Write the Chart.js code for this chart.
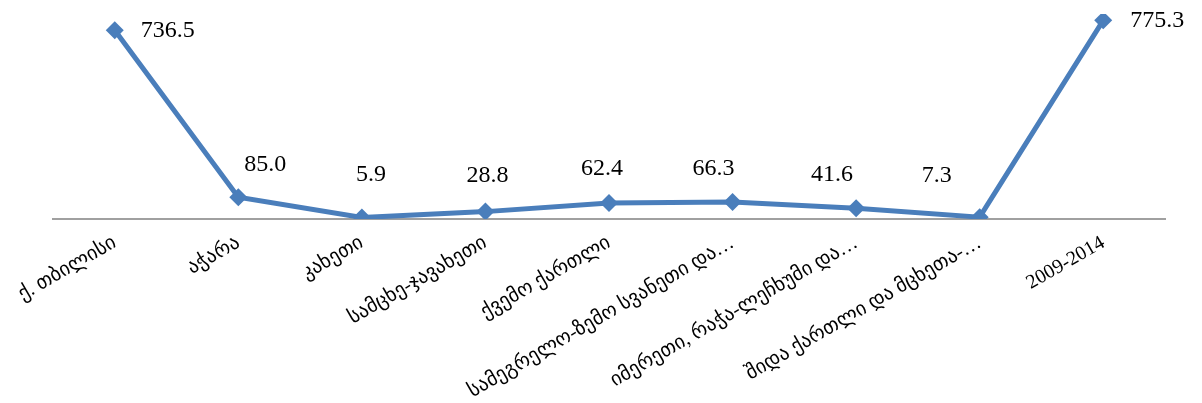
<!DOCTYPE html>
<html>
<head>
<meta charset="utf-8">
<script src="https://cdn.jsdelivr.net/npm/chart.js@4.4.1/dist/chart.umd.min.js"></script>
<style>
    html, body { margin: 0; padding: 0; background: #fff; }
    #wrap { width: 1202px; height: 403px; }
</style>
</head>
<body>
<div id="wrap"><canvas id="regionChart"></canvas></div>
<script>
const regionLabels = [
    'ქ. თბილისი',
    'აჭარა',
    'კახეთი',
    'სამცხე-ჯავახეთი',
    'ქვემო ქართლი',
    'სამეგრელო-ზემო სვანეთი და…',
    'იმერეთი, რაჭა-ლეჩხუმი და…',
    'შიდა ქართლი და მცხეთა-…',
    '2009-2014'
];
const regionValues = [736.5, 85.0, 5.9, 28.8, 62.4, 66.3, 41.6, 7.3, 775.3];
const yMin = 0;
const yMax = 800;

// label placement (dx, dy from the point), like the hand-moved labels in the original
const labelOffsets = [
    [53, 0], [27, -33], [9, -43], [2, -36], [-7, -34],
    [-19, -33], [-24, -34], [-43, -41], [54, 0]
];

const valueLabels = {
    id: 'valueLabels',
    afterDatasetsDraw(chart) {
        const ctx = chart.ctx;
        const meta = chart.getDatasetMeta(0);
        ctx.save();
        ctx.font = '24px "Liberation Serif", "Times New Roman", serif';
        ctx.fillStyle = '#000';
        ctx.textAlign = 'center';
        ctx.textBaseline = 'middle';
        meta.data.forEach((pt, i) => {
            const off = labelOffsets[i] || [0, -30];
            ctx.fillText(regionValues[i].toFixed(1), pt.x + off[0], pt.y + off[1]);
        });
        ctx.restore();
    }
};

new Chart(document.getElementById('regionChart'), {
    type: 'line',
    data: {
        labels: regionLabels,
        datasets: [{
            data: regionValues,
            borderColor: '#4a7ebb',
            backgroundColor: '#4a7ebb',
            borderWidth: 5,
            tension: 0,
            pointStyle: 'rectRot',
            pointRadius: 9,
            pointBorderWidth: 0,
            pointBackgroundColor: '#4a7ebb'
        }]
    },
    options: {
        responsive: true,
        maintainAspectRatio: false,
        animation: false,
        layout: {
            padding: { left: 53, right: 37, top: 14, bottom: 0 }
        },
        plugins: {
            legend: { display: false },
            tooltip: { enabled: false }
        },
        scales: {
            x: {
                offset: true,
                grid: { display: false, drawTicks: false },
                border: { display: true, color: '#a0a0a0', width: 2 },
                ticks: {
                    color: '#000',
                    minRotation: 30,
                    maxRotation: 30,
                    autoSkip: false,
                    padding: 12,
                    font: { family: '"Liberation Serif", "DejaVu Sans", serif', size: 20 }
                },
                afterFit: (axis) => { axis.height = 184; }
            },
            y: {
                display: false,
                min: yMin,
                max: yMax
            }
        }
    },
    plugins: [valueLabels]
});
</script>
</body>
</html>
